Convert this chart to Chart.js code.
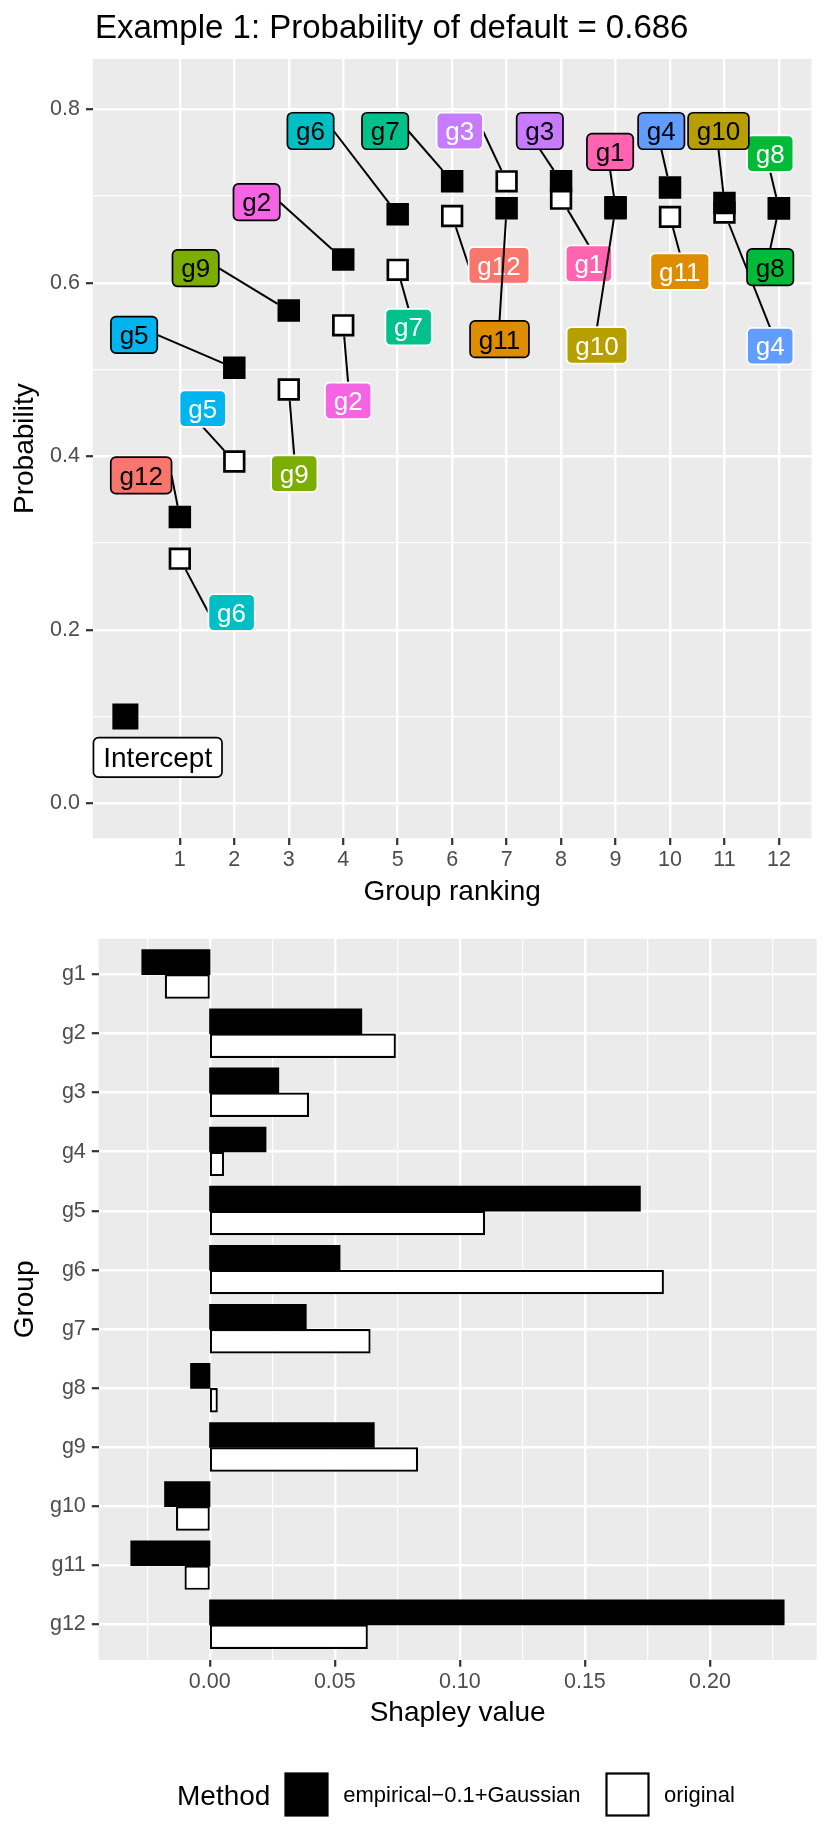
<!DOCTYPE html>
<html>
<head>
<meta charset="utf-8">
<title>Example 1: Probability of default = 0.686</title>
<script src="https://cdn.jsdelivr.net/npm/chart.js@4.4.1/dist/chart.umd.min.js"></script>
<style>
  html, body { margin: 0; padding: 0; background: #ffffff; }
  #wrap { position: relative; width: 830px; height: 1845px; }
  .box { position: absolute; left: 0; width: 830px; }
  #topBox { top: 0; height: 920px; }
  #botBox { top: 920px; height: 925px; }
  canvas { display: block; }
</style>
</head>
<body>
<div id="wrap">
  <div class="box" id="topBox"><canvas id="rankChart" width="830" height="920"></canvas></div>
  <div class="box" id="botBox"><canvas id="shapChart" width="830" height="925"></canvas></div>
</div>
<script>
// ---- values ----
const ranks = [1, 2, 3, 4, 5, 6, 7, 8, 9, 10, 11, 12];

const empiricalGroups = ['g12', 'g5', 'g9', 'g2', 'g6', 'g7', 'g11', 'g3', 'g1', 'g4', 'g10', 'g8'];
const empiricalProb = [0.330, 0.502, 0.568, 0.627, 0.679, 0.717, 0.686, 0.717, 0.687, 0.710, 0.692, 0.686];

const originalGroups = ['g6', 'g5', 'g9', 'g2', 'g7', 'g12', 'g3', 'g1', 'g10', 'g11', 'g4', 'g8'];
const originalProb = [0.282, 0.394, 0.477, 0.551, 0.615, 0.677, 0.717, 0.697, 0.686, 0.676, 0.681, 0.686];

const interceptProb = 0.1;

// where the repelled labels sit (data units)
const empiricalLabelX = [0.29, 0.16, 1.29, 2.41, 3.40, 4.77, 6.87, 7.61, 8.90, 9.84, 10.89, 11.84];
const empiricalLabelY = [0.378, 0.540, 0.617, 0.693, 0.775, 0.775, 0.535, 0.775, 0.751, 0.775, 0.775, 0.618];
const originalLabelX = [1.95, 1.42, 3.10, 4.09, 5.20, 6.86, 6.14, 8.51, 8.66, 10.18, 11.84, 11.84];
const originalLabelY = [0.220, 0.455, 0.380, 0.464, 0.549, 0.620, 0.775, 0.622, 0.528, 0.613, 0.527, 0.749];
const interceptLabel = [0.594, 0.053];

const groups = ['g1', 'g2', 'g3', 'g4', 'g5', 'g6', 'g7', 'g8', 'g9', 'g10', 'g11', 'g12'];
const shapEmpirical = [-0.0271, 0.0607, 0.0275, 0.0224, 0.1721, 0.0520, 0.0385, -0.0076, 0.0657, -0.0180, -0.0315, 0.2296];
const shapOriginal = [-0.0180, 0.0744, 0.0397, 0.0057, 0.1101, 0.1816, 0.0643, 0.0032, 0.0833, -0.0135, -0.0101, 0.0632];

const methods = ['empirical\u22120.1+Gaussian', 'original'];

// ggplot hue palette, levels g12 ... g1
const groupColors = {
  g12: '#F8766D', g11: '#DE8C00', g10: '#B79F00', g9: '#7CAE00',
  g8: '#00BA38', g7: '#00C08B', g6: '#00BFC4', g5: '#00B4F0',
  g4: '#619CFF', g3: '#C77CFF', g2: '#F564E3', g1: '#FF64B0'
};

const FONT = '"Liberation Sans", Arial, Helvetica, sans-serif';
Chart.defaults.font.family = FONT;

const PANEL = '#EBEBEB';
const TICK_TEXT = '#4D4D4D';
const TICK_MARK = '#333333';

function nearMultiple(v, step) {
  const q = v / step;
  return Math.abs(q - Math.round(q)) < 1e-6;
}

function keepOnly(step, lo, hi) {
  return function (scale) {
    scale.ticks = scale.ticks.filter(t => nearMultiple(t.value, step) &&
      (lo === undefined || t.value >= lo - 1e-9) && (hi === undefined || t.value <= hi + 1e-9));
  };
}

function gridStyle(majorStep) {
  return {
    offset: false,
    color: '#FFFFFF',
    lineWidth: c => (c.tick && nearMultiple(c.tick.value, majorStep)) ? 2.4 : 1.2,
    drawTicks: true,
    tickLength: 6.7,
    tickWidth: 2.2,
    tickColor: c => (c.tick && nearMultiple(c.tick.value, majorStep)) ? TICK_MARK : 'rgba(0,0,0,0)'
  };
}

const panelBg = {
  id: 'panelBg',
  beforeDraw(chart) {
    const a = chart.chartArea, ctx = chart.ctx;
    ctx.save();
    ctx.fillStyle = PANEL;
    ctx.fillRect(a.left, a.top, a.right - a.left, a.bottom - a.top);
    ctx.restore();
  }
};

function roundBox(ctx, x, y, w, h, r) {
  ctx.beginPath();
  if (ctx.roundRect) {
    ctx.roundRect(x, y, w, h, r);
  } else {
    ctx.rect(x, y, w, h);
  }
}

// one label layer: segment from nearest box edge to the point, then the box
function drawLayer(ctx, xs, ys, names, probs, lx, ly, ink) {
  const size = 26, pad = 8.7, h = 36.5, half = 11.2;
  ctx.font = size + 'px ' + FONT;
  for (let i = 0; i < names.length; i++) {
    const px = xs.getPixelForValue(ranks[i]);
    const py = ys.getPixelForValue(probs[i]);
    const cx = xs.getPixelForValue(lx[i]);
    const cy = ys.getPixelForValue(ly[i]);
    const w = ctx.measureText(names[i]).width + 2 * pad;
    const cand = [[cx, cy - h / 2], [cx, cy + h / 2], [cx - w / 2, cy], [cx + w / 2, cy]];
    let best = cand[0], bd = Infinity;
    cand.forEach(p => {
      const d = Math.hypot(p[0] - px, p[1] - py);
      if (d < bd) { bd = d; best = p; }
    });
    const dx = best[0] - px, dy = best[1] - py;
    const m = Math.max(Math.abs(dx), Math.abs(dy));
    if (m > half + 4) {
      ctx.beginPath();
      ctx.moveTo(best[0], best[1]);
      ctx.lineTo(px + dx * half / m, py + dy * half / m);
      ctx.strokeStyle = '#000000';
      ctx.lineWidth = 2;
      ctx.stroke();
    }
    roundBox(ctx, cx - w / 2, cy - h / 2, w, h, 5);
    ctx.fillStyle = groupColors[names[i]];
    ctx.fill();
    ctx.lineWidth = 1.7;
    ctx.strokeStyle = ink;
    ctx.stroke();
    ctx.fillStyle = ink;
    ctx.textAlign = 'center';
    ctx.textBaseline = 'alphabetic';
    ctx.fillText(names[i], cx, cy + 0.358 * size);
  }
}

const repelLabels = {
  id: 'repelLabels',
  afterDatasetsDraw(chart) {
    const ctx = chart.ctx, xs = chart.scales.x, ys = chart.scales.y;
    ctx.save();
    drawLayer(ctx, xs, ys, originalGroups, originalProb, originalLabelX, originalLabelY, '#FFFFFF');
    drawLayer(ctx, xs, ys, empiricalGroups, empiricalProb, empiricalLabelX, empiricalLabelY, '#000000');

    // intercept label
    const size = 28;
    ctx.font = size + 'px ' + FONT;
    const cx = xs.getPixelForValue(interceptLabel[0]);
    const cy = ys.getPixelForValue(interceptLabel[1]);
    const w = ctx.measureText('Intercept').width + 2 * 9.8, h = 39.6;
    roundBox(ctx, cx - w / 2, cy - h / 2, w, h, 5);
    ctx.fillStyle = '#FFFFFF';
    ctx.fill();
    ctx.lineWidth = 1.7;
    ctx.strokeStyle = '#000000';
    ctx.stroke();
    ctx.fillStyle = '#000000';
    ctx.textAlign = 'center';
    ctx.textBaseline = 'alphabetic';
    ctx.fillText('Intercept', cx, cy + 0.358 * size);
    ctx.restore();
  }
};

const topTitle = {
  id: 'topTitle',
  afterDraw(chart) {
    const ctx = chart.ctx;
    ctx.save();
    ctx.font = '33px ' + FONT;
    ctx.fillStyle = '#000000';
    ctx.textAlign = 'left';
    ctx.textBaseline = 'alphabetic';
    ctx.fillText('Example 1: Probability of default = 0.686', 95, 37.7);
    ctx.restore();
  }
};

const methodLegend = {
  id: 'methodLegend',
  afterDraw(chart) {
    const ctx = chart.ctx;
    ctx.save();
    ctx.fillStyle = '#000000';
    ctx.textBaseline = 'alphabetic';
    ctx.textAlign = 'left';
    ctx.font = '28px ' + FONT;
    ctx.fillText('Method', 177, 884.8);

    ctx.lineWidth = 2.2;
    ctx.strokeStyle = '#000000';
    ctx.fillStyle = '#000000';
    ctx.fillRect(285.5, 853.5, 42, 42);
    ctx.strokeRect(285.5, 853.5, 42, 42);
    ctx.fillStyle = '#FFFFFF';
    ctx.fillRect(606.5, 853.5, 42, 42);
    ctx.strokeRect(606.5, 853.5, 42, 42);

    ctx.fillStyle = '#000000';
    ctx.font = '22px ' + FONT;
    ctx.fillText(methods[0], 343.3, 882.3);
    ctx.fillText(methods[1], 664, 882.3);
    ctx.restore();
  }
};

const tickFont = { size: 21.5, family: FONT };
const titleFont = { size: 28, family: FONT };

// ---- top: cumulative probability by group ranking ----
new Chart(document.getElementById('rankChart'), {
  type: 'scatter',
  data: {
    datasets: [
      {
        label: methods[0],
        data: ranks.map((r, i) => ({ x: r, y: empiricalProb[i] })),
        pointStyle: 'rect',
        pointRadius: 15.9,
        backgroundColor: '#000000',
        borderWidth: 0
      },
      {
        label: 'Intercept',
        data: [{ x: 0, y: interceptProb }],
        pointStyle: 'rect',
        pointRadius: 18.4,
        backgroundColor: '#000000',
        borderWidth: 0
      },
      {
        label: methods[1],
        data: ranks.map((r, i) => ({ x: r, y: originalProb[i] })),
        pointStyle: 'rect',
        pointRadius: 13.9,
        backgroundColor: '#FFFFFF',
        borderColor: '#000000',
        borderWidth: 2.7
      }
    ]
  },
  options: {
    responsive: false,
    animation: false,
    events: [],
    layout: { padding: { left: 0, right: 13.3, top: 59, bottom: 0 } },
    plugins: { legend: { display: false }, tooltip: { enabled: false } },
    scales: {
      x: {
        type: 'linear',
        min: -0.6,
        max: 12.6,
        offset: false,
        border: { display: false },
        grid: gridStyle(1),
        afterBuildTicks: keepOnly(1, 1, 12),
        afterFit: s => { s.height = 81.7; },
        ticks: {
          stepSize: 1,
          includeBounds: false,
          autoSkip: false,
          maxRotation: 0,
          minRotation: 0,
          padding: 2,
          color: TICK_TEXT,
          font: tickFont,
          callback: v => String(v)
        },
        title: { display: true, text: 'Group ranking', color: '#000000', font: titleFont, padding: { top: 0, bottom: 11.2 } }
      },
      y: {
        type: 'linear',
        min: -0.0403,
        max: 0.858,
        offset: false,
        border: { display: false },
        grid: gridStyle(0.2),
        afterBuildTicks: keepOnly(0.1),
        afterFit: s => { s.width = 92.7; },
        ticks: {
          stepSize: 0.1,
          includeBounds: false,
          autoSkip: false,
          padding: 6,
          color: TICK_TEXT,
          font: tickFont,
          callback: v => nearMultiple(v, 0.2) ? v.toFixed(1) : ''
        },
        title: { display: true, text: 'Probability', color: '#000000', font: titleFont, padding: { top: 8, bottom: 0 } }
      }
    }
  },
  plugins: [panelBg, repelLabels, topTitle]
});

// ---- bottom: Shapley values per group ----
new Chart(document.getElementById('shapChart'), {
  type: 'bar',
  data: {
    datasets: [
      {
        label: methods[0],
        data: shapEmpirical.map((v, i) => ({ x: v, y: i + 1 })),
        backgroundColor: '#000000',
        borderWidth: 0,
        inflateAmount: 0.6
      },
      {
        label: methods[1],
        data: shapOriginal.map((v, i) => ({ x: v, y: i + 1 })),
        backgroundColor: '#FFFFFF',
        borderColor: '#000000',
        borderWidth: 2.2,
        borderSkipped: false
      }
    ]
  },
  options: {
    indexAxis: 'y',
    responsive: false,
    animation: false,
    events: [],
    categoryPercentage: 0.826,
    barPercentage: 1.0,
    layout: { padding: { left: 0, right: 13.3, top: 16, bottom: 105 } },
    plugins: { legend: { display: false }, tooltip: { enabled: false } },
    scales: {
      x: {
        type: 'linear',
        min: -0.0445,
        max: 0.2427,
        offset: false,
        border: { display: false },
        grid: gridStyle(0.05),
        afterBuildTicks: function (scale) {
          keepOnly(0.025, -0.04, 0.24)(scale);
          // nudge the zero tick so bars start right on zero (no half-gridline gap)
          scale.ticks.forEach(t => { if (t.value === 0) t.value = 1e-12; });
        },
        afterFit: s => { s.height = 80; },
        ticks: {
          stepSize: 0.025,
          includeBounds: false,
          autoSkip: false,
          maxRotation: 0,
          minRotation: 0,
          padding: 2,
          color: TICK_TEXT,
          font: tickFont,
          callback: v => nearMultiple(v, 0.05) ? Math.abs(v).toFixed(2) : ''
        },
        title: { display: true, text: 'Shapley value', color: '#000000', font: titleFont, padding: { top: 0, bottom: 9.6 } }
      },
      y: {
        type: 'linear',
        min: 0.4,
        max: 12.6,
        reverse: true,
        offset: false,
        border: { display: false },
        grid: gridStyle(1),
        afterBuildTicks: keepOnly(1, 1, 12),
        afterFit: s => { s.width = 98.5; },
        ticks: {
          stepSize: 1,
          includeBounds: false,
          autoSkip: false,
          padding: 6,
          color: TICK_TEXT,
          font: tickFont,
          callback: v => groups[Math.round(v) - 1]
        },
        title: { display: true, text: 'Group', color: '#000000', font: titleFont, padding: { top: 8, bottom: 0 } }
      }
    }
  },
  plugins: [panelBg, methodLegend]
});
</script>
</body>
</html>
